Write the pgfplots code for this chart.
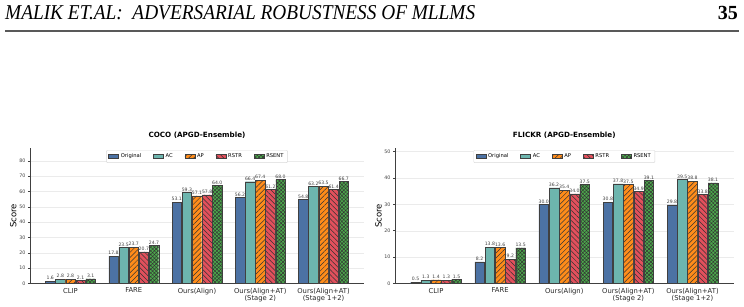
\documentclass[border=0pt]{standalone}
\usepackage{fontspec}
\setmainfont{DejaVu Sans}
\newfontfamily\headfont{Liberation Serif}
\usepackage{pgfplots}
\pgfplotsset{compat=1.18}
\usetikzlibrary{patterns.meta}
\definecolor{cBlue}{HTML}{4C72A4}
\definecolor{cTeal}{HTML}{72C0B8}
\definecolor{cOrange}{HTML}{FF8C1A}
\definecolor{cRed}{HTML}{E2505C}
\definecolor{cGreen}{HTML}{4CA84C}
\pgfplotsset{
  sOrig/.style={fill=cBlue, draw=black!75, line width=0.4pt, bar shift=-0.32},
  sAC/.style={fill=cTeal, draw=black!75, line width=0.4pt, bar shift=-0.16,
    postaction={pattern={Dots[distance=2pt, radius=0.4pt]}, pattern color=black!75}},
  sAP/.style={fill=cOrange, draw=black!75, line width=0.4pt, bar shift=0,
    postaction={pattern={Lines[angle=45, distance=3.6pt, line width=0.5pt]}, pattern color=black!80}},
  sRSTR/.style={fill=cRed, draw=black!75, line width=0.4pt, bar shift=0.16,
    postaction={pattern={Lines[angle=-45, distance=3.6pt, line width=0.5pt]}, pattern color=black!80}},
  sRSENT/.style={fill=cGreen, draw=black!75, line width=0.4pt, bar shift=0.32,
    postaction={pattern={Hatch[angle=45, distance=2.6pt, line width=0.45pt]}, pattern color=black!80}},
  mychart/.style={
    scale only axis,
    ybar, bar width=0.15,
    xmin=-0.64, xmax=4.64, ymin=0,
    axis x line*=bottom, axis y line*=left,
    axis line style={black!75, line width=0.7pt},
    xtick={0,1,2,3,4},
    xticklabels={CLIP,FARE,Ours(Align),{Ours(Align+AT)\\(Stage 2)},{Ours(Align+AT)\\(Stage 1+2)}},
    xticklabel style={align=center, font=\fontsize{6.8}{7.6}\selectfont, text=black!85, yshift=1pt},
    xtick style={draw=none},
    yticklabel style={font=\fontsize{4.8}{5.5}\selectfont, text=black!75, xshift=1pt},
    ytick style={black!75, line width=0.5pt},
    major tick length=2pt, tick align=outside,
    ymajorgrids, grid style={black!8, line width=0.4pt},
    /pgf/number format/assume math mode=true,
    ylabel={Score},
    ylabel style={font=\fontsize{8.5}{9}\selectfont},
    title style={font=\bfseries\fontsize{7.2}{8}\selectfont, at={(0.5,1)}, anchor=south, yshift=0pt},
    nodes near coords={\pgfmathprintnumber[fixed,fixed zerofill,precision=1]{\pgfplotspointmeta}},
    every node near coord/.append style={font=\fontsize{4.6}{5}\selectfont, text=black!75, anchor=south, inner sep=1pt},
    legend style={at={(0.5,0.985)}, anchor=north, legend columns=5, font=\fontsize{5.2}{6}\selectfont,
      draw=black!15, rounded corners=1pt, inner xsep=2pt, inner ysep=1.5pt,
      /tikz/every even column/.append style={column sep=10pt}},
    legend image code/.code={\draw[#1, bar shift=0pt, sharp corners] (0pt,-2pt) rectangle (10pt,2pt);},
  }
}
\begin{document}
\begin{tikzpicture}[x=1pt,y=1pt]
\path[use as bounding box] (0,0) rectangle (744,306);
\node[anchor=base west, inner sep=0pt] at (5,286) {\resizebox{470pt}{14pt}{\headfont\itshape MALIK ET.AL:\ \ ADVERSARIAL ROBUSTNESS OF MLLMS}};
\node[anchor=base east, inner sep=0pt] at (738,286) {\headfont\bfseries\fontsize{20}{20}\selectfont 35};
\draw[line width=1.2pt, black!65] (5,275) -- (739,275);

\begin{axis}[mychart, at={(30pt,22.5pt)}, anchor=south west, width=334pt, height=135.5pt,
  ymax=88.4, ytick={0,10,...,80}, title={COCO (APGD-Ensemble)},
  ylabel style={at={(axis description cs:-0.05,0.5)}, anchor=center}]
\addplot[sOrig] coordinates {(0,1.6) (1,17.8) (2,53.1) (3,56.2) (4,54.8)};
\addplot[sAC] coordinates {(0,2.8) (1,23.5) (2,59.3) (3,66.4) (4,63.2)};
\addplot[sAP] coordinates {(0,2.8) (1,23.7) (2,57.1) (3,67.4) (4,63.5)};
\addplot[sRSTR] coordinates {(0,2.1) (1,20.7) (2,57.8) (3,61.2) (4,61.4)};
\addplot[sRSENT] coordinates {(0,3.1) (1,24.7) (2,64.0) (3,68.0) (4,66.7)};
\legend{Original,AC,AP,RSTR,RSENT}
\end{axis}

\begin{axis}[mychart, at={(395pt,22.5pt)}, anchor=south west, width=338.5pt, height=135.5pt,
  ymax=51.35, ytick={0,10,...,50}, title={FLICKR (APGD-Ensemble)},
  ylabel style={at={(axis description cs:-0.049,0.5)}, anchor=center}]
\addplot[sOrig] coordinates {(0,0.5) (1,8.2) (2,30.0) (3,30.8) (4,29.8)};
\addplot[sAC] coordinates {(0,1.3) (1,13.8) (2,36.2) (3,37.8) (4,39.5)};
\addplot[sAP] coordinates {(0,1.4) (1,13.6) (2,35.4) (3,37.5) (4,38.8)};
\addplot[sRSTR] coordinates {(0,1.3) (1,9.2) (2,34.0) (3,34.9) (4,33.8)};
\addplot[sRSENT] coordinates {(0,1.5) (1,13.5) (2,37.5) (3,39.1) (4,38.1)};
\legend{Original,AC,AP,RSTR,RSENT}
\end{axis}
\end{tikzpicture}
\end{document}
